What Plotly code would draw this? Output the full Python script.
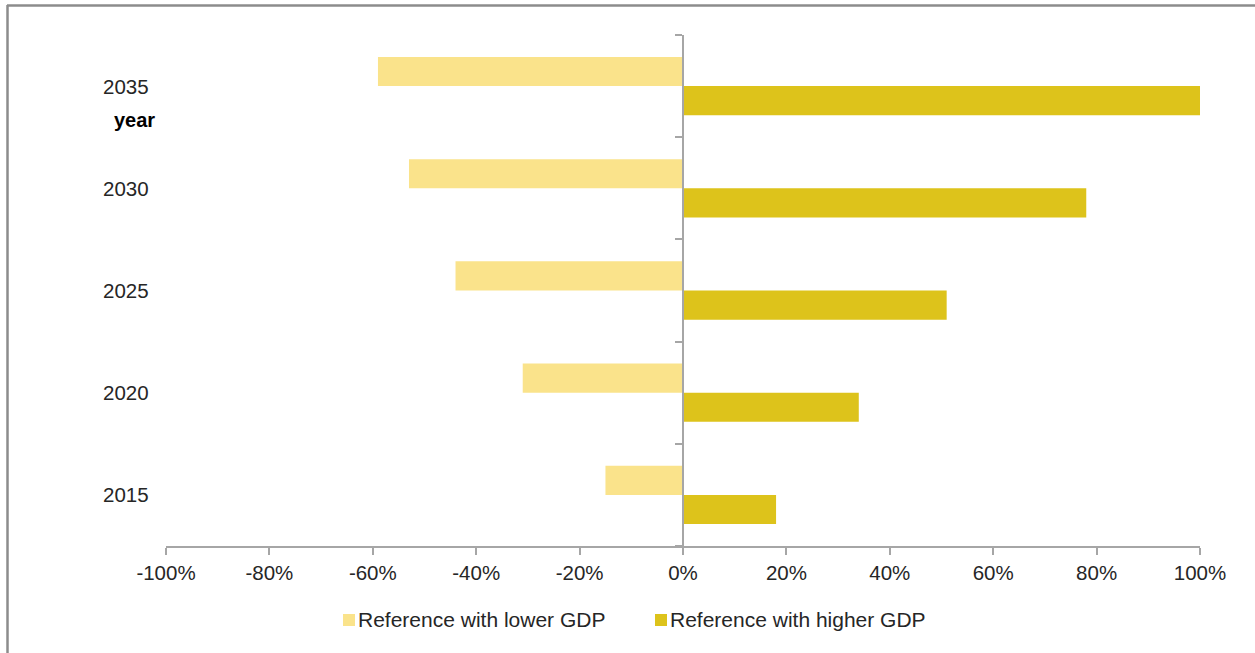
import plotly.graph_objects as go

# Change relative to the reference case, in percent
years = ["2015", "2020", "2025", "2030", "2035"]
lower_gdp = [-15, -31, -44, -53, -59]
higher_gdp = [18, 34, 51, 78, 100]
x_ticks = [-100, -80, -60, -40, -20, 0, 20, 40, 60, 80, 100]
series_names = ["Reference with lower GDP", "Reference with higher GDP"]

LIGHT = "#FAE38B"
DARK = "#DDC31B"
AXIS = "#A6A6A6"
TEXT = "#262626"
FONT = "Liberation Sans, Arial, sans-serif"

W, H = 1255, 653
L, R, T, B = 166, 55, 35, 107
plot_w = W - L - R
plot_h = H - T - B


def px_x(px):
    return (px - L) / plot_w


def px_y(py):
    return (H - B - py) / plot_h


fig = go.Figure()
fig.add_trace(go.Bar(
    y=years, x=higher_gdp, orientation="h", name=series_names[1],
    marker=dict(color=DARK, line=dict(width=0)), showlegend=False,
))
fig.add_trace(go.Bar(
    y=years, x=lower_gdp, orientation="h", name=series_names[0],
    marker=dict(color=LIGHT, line=dict(width=0)), showlegend=False,
))

# year labels sit at the left edge of the plot, one per category slot
annotations = [
    dict(x=px_x(151), xref="paper", y=i, yref="y", text=yr, showarrow=False,
         xanchor="right", yanchor="middle", font=dict(family=FONT, size=20.5, color=TEXT))
    for i, yr in enumerate(years)
]
annotations.append(dict(
    x=px_x(157), xref="paper", y=len(years) - 1, yref="y", yshift=-34, text="<b>year</b>",
    showarrow=False, xanchor="right", yanchor="middle",
    font=dict(family=FONT, size=20, color="#000000"),
))

# outer frame: top and left edges
shapes = [
    dict(type="line", xref="paper", yref="paper", x0=px_x(7), x1=px_x(1260),
         y0=px_y(5.5), y1=px_y(5.5), line=dict(color="#8C8C8C", width=2.5)),
    dict(type="line", xref="paper", yref="paper", x0=px_x(7.5), x1=px_x(7.5),
         y0=px_y(5), y1=px_y(660), line=dict(color="#8C8C8C", width=2.5)),
]

# legend: small square swatch followed closely by the series name
legend_items = [(series_names[0], LIGHT, 343), (series_names[1], DARK, 655)]
for name, color, left in legend_items:
    shapes.append(dict(
        type="rect", xref="paper", yref="paper",
        x0=px_x(left), x1=px_x(left + 12), y0=px_y(626), y1=px_y(614),
        fillcolor=color, line=dict(width=0),
    ))
    annotations.append(dict(
        x=px_x(left + 13), xref="paper", y=px_y(620), yref="paper", text=name,
        showarrow=False, xanchor="left", yanchor="middle",
        font=dict(family=FONT, size=21, color=TEXT),
    ))

fig.update_layout(
    width=W, height=H,
    margin=dict(l=L, r=R, t=T, b=B),
    paper_bgcolor="white", plot_bgcolor="white",
    barmode="group", bargap=0.43, bargroupgap=0,
    font=dict(family=FONT, size=20, color=TEXT),
    showlegend=False,
    xaxis=dict(
        range=[-100, 100], tickvals=x_ticks, ticktext=[f"{v}%" for v in x_ticks],
        showgrid=False, zeroline=False, showline=True, linecolor=AXIS, linewidth=2,
        ticks="outside", ticklen=7, tickwidth=1.5, tickcolor=AXIS,
        tickfont=dict(family=FONT, size=20.5, color=TEXT),
    ),
    yaxis=dict(
        type="category", categoryorder="array", categoryarray=years,
        range=[-0.5, len(years) - 0.5], autorange=False,
        anchor="free", position=0.5, showticklabels=False,
        showgrid=False, zeroline=False, showline=True, linecolor=AXIS, linewidth=2,
        ticks="outside", tickson="boundaries", ticklen=7, tickwidth=1.5, tickcolor=AXIS,
    ),
    annotations=annotations,
    shapes=shapes,
)

fig.write_html("out.html")
